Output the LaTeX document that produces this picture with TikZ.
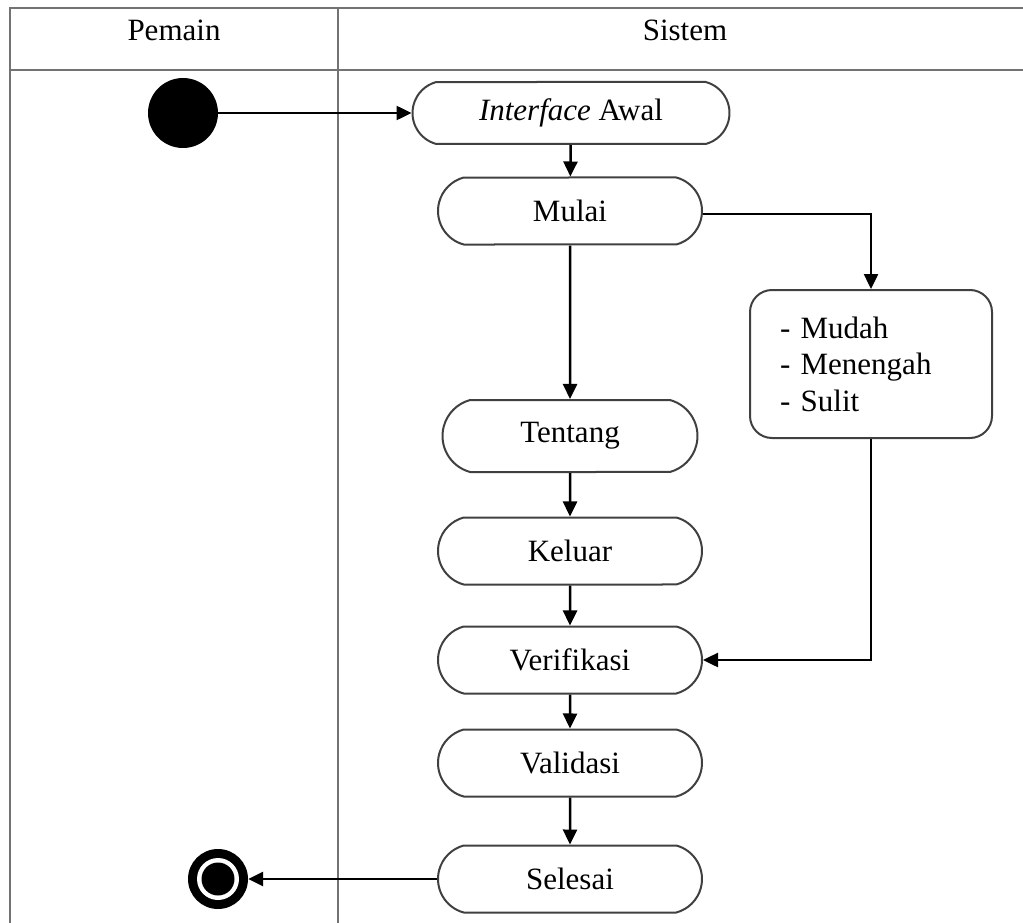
\documentclass[tikz,border=0pt]{standalone}
\usepackage{fontspec}
\setmainfont{Liberation Serif}
\usetikzlibrary{arrows.meta,shapes.misc}
\begin{document}
\begin{tikzpicture}[x=1pt,y=-1pt,
  lane/.style={draw=black!55,line width=1.6pt},
  act/.style={draw=black!75,line width=2pt,rounded rectangle,rounded rectangle arc length=150,
    minimum width=264pt,minimum height=67pt,inner sep=0pt,
    font=\fontsize{31}{36}\selectfont},
  choice/.style={draw=black!75,line width=2pt,rounded corners=22pt,align=left,
    text width=182pt,inner xsep=30pt,minimum height=148pt,
    font=\fontsize{31}{36.5}\selectfont},
  flow/.style={draw=black,line width=2.5pt,-{Triangle[length=15pt,width=14pt]}},
  head/.style={font=\fontsize{31}{36}\selectfont}]
\useasboundingbox (0,0) rectangle (1023,923);
% swimlanes
\draw[lane] (10,923) -- (10,8) -- (1023,8);
\draw[lane] (10,70) -- (1023,70);
\draw[lane] (338,8) -- (338,923);
\node[head] (pemain) at (174,30) {Pemain};
\node[head] (sistem) at (685,30) {Sistem};
% start and end
\fill (183,113) circle (35) coordinate (startc);
\node[circle,minimum size=70pt,inner sep=0pt] (start) at (183,113) {};
\fill (218,879) circle (30);
\fill[white] (218,879) circle (21);
\fill (218,879) circle (16.5);
\node[circle,minimum size=60pt,inner sep=0pt] (end) at (218,879) {};
% activities
\node[act,minimum width=317pt,minimum height=62pt] (iface) at (571,113) {\textit{Interface} Awal};
\node[act] (mulai) at (570,211) {Mulai};
\node[act,minimum width=255pt,minimum height=72pt] (tentang) at (570,436) {Tentang};
\node[act] (keluar) at (570,551) {Keluar};
\node[act] (verif) at (570,660) {Verifikasi};
\node[act] (valid) at (570,763) {Validasi};
\node[act] (selesai) at (570,879) {Selesai};
\node[choice] (level) at (871,364) {- Mudah\\- Menengah\\- Sulit};
% flows
\draw[flow] (start) -- (iface);
\draw[flow] (iface) -- (mulai);
\draw[flow] (mulai) -- (tentang);
\draw[flow] (tentang) -- (keluar);
\draw[flow] (keluar) -- (verif);
\draw[flow] (verif) -- (valid);
\draw[flow] (valid) -- (selesai);
\draw[flow] (selesai) -- (end);
\draw[flow] ([yshift=-3pt]mulai.east) -| (level.north);
\draw[flow] (level.south) |- (verif.east);
\end{tikzpicture}
\end{document}
